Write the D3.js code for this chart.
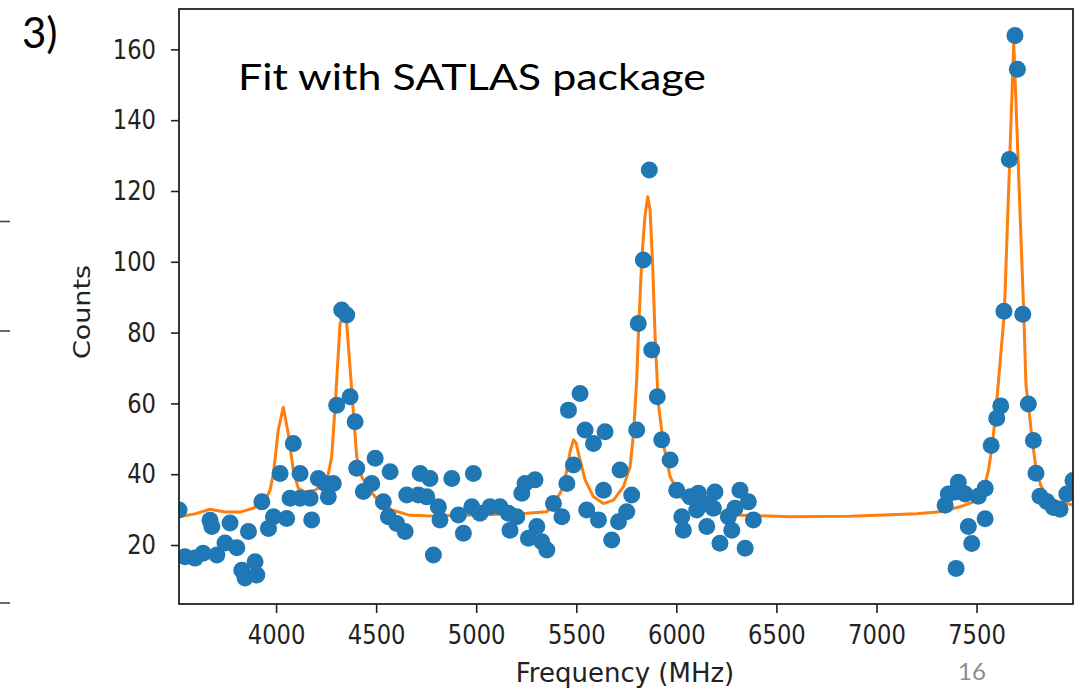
<!DOCTYPE html>
<html>
<head>
<meta charset="utf-8">
<script src="https://cdn.jsdelivr.net/npm/d3@7"></script>
<style>
  body { margin: 0; background: #fff; }
  svg { display: block; }
</style>
</head>
<body>
<svg id="chart" width="1084" height="691"></svg>
<script>
// Measured spectrum: frequency (MHz) and counts per point
const freq = [
  3515, 3545, 3595, 3635, 3670, 3679, 3704, 3745, 3770, 3804,
  3829, 3845, 3895, 3904, 3862, 3929, 3962, 3987, 4053, 4020,
  4086, 4120, 4070, 4120, 4170, 4178, 4211, 4245, 4261, 4286,
  4328, 4353, 4303, 4370, 4395, 4403, 4436, 4495, 4478, 4570,
  4536, 4561, 4603, 4645, 4653, 4720, 4769, 4711, 4753, 4811,
  4819, 4878, 4911, 4936, 4786, 4978, 4986, 5019, 5069, 5119,
  5161, 5169, 5203, 5228, 5244, 5294, 5261, 5303, 5353, 5328,
  5386, 5428, 5453, 5486, 5461, 5519, 5544, 5586, 5644, 5552,
  5611, 5636, 5677, 5711, 5719, 5752, 5777, 5802, 5865, 5835,
  5810, 5877, 5905, 5927, 5969, 6002, 6027, 6035, 6069, 6110,
  6102, 6152, 6143, 6193, 6185, 6218, 6260, 6277, 6293, 6318,
  6360, 6385, 6344, 7343, 7359, 7409, 7393, 7443, 7509, 7543,
  7543, 7459, 7476, 7398, 7573, 7601, 7621, 7637, 7664, 7692,
  7704, 7731, 7759, 7784, 7797, 7817, 7851, 7884, 7917, 7951,
  7982
];
const counts = [
  29.9, 16.7, 16.3, 17.7, 27.0, 25.2, 17.2, 20.6, 26.2, 19.2,
  12.9, 10.7, 15.3, 11.5, 23.8, 32.2, 24.7, 28.0, 27.5, 40.2,
  48.7, 40.2, 33.2, 33.2, 33.2, 27.1, 38.8, 37.4, 33.6, 37.4,
  86.4, 85.0, 59.5, 61.9, 54.8, 41.7, 35.1, 44.5, 37.4, 40.7,
  32.2, 28.0, 26.1, 23.8, 34.1, 40.2, 38.8, 34.1, 33.6, 30.8,
  27.1, 38.8, 28.5, 23.3, 17.2, 30.8, 40.2, 29.0, 30.8, 30.8,
  29.0, 24.2, 28.0, 34.6, 37.4, 38.4, 21.9, 25.2, 18.6, 20.9,
  31.7, 28.0, 37.4, 42.6, 58.1, 62.8, 52.5, 48.7, 52.0, 29.9,
  27.1, 35.5, 21.4, 26.6, 41.2, 29.4, 34.1, 52.5, 125.9, 100.5,
  82.6, 75.1, 61.9, 49.7, 44.0, 35.5, 28.0, 24.2, 33.6, 34.6,
  29.9, 25.2, 31.7, 35.0, 30.4, 20.5, 28.0, 24.2, 30.4, 35.5,
  32.2, 27.1, 19.1, 31.2, 34.4, 37.7, 35.0, 34.4, 33.8, 36.0,
  27.4, 25.2, 20.4, 13.4, 48.1, 55.8, 59.3, 86.0, 128.9, 163.9,
  154.4, 85.2, 59.8, 49.5, 40.3, 33.8, 32.3, 30.6, 30.1, 34.4,
  38.2
];

// SATLAS fit curve vertices
const fitFreq = [
  3515, 3595, 3670, 3745, 3820, 3885, 3930, 3954, 3970, 3987,
  4011, 4036, 4061, 4086, 4111, 4145, 4195, 4230, 4260, 4278,
  4295, 4320, 4336, 4353, 4378, 4403, 4428, 4460, 4495, 4578,
  4661, 4769, 5019, 5253, 5353, 5386, 5419, 5436, 5453, 5469,
  5486, 5499, 5511, 5544, 5586, 5636, 5686, 5736, 5769, 5786,
  5802, 5810, 5827, 5843, 5857, 5869, 5882, 5894, 5910, 5935,
  5969, 6019, 6119, 6285, 6568, 6868, 7201, 7318, 7418, 7485,
  7535, 7560, 7577, 7594, 7639, 7686, 7736, 7747, 7762, 7778,
  7795, 7820, 7850, 7895, 7982
];
const fitCounts = [
  28.0, 28.8, 30.1, 29.3, 29.3, 30.4, 31.9, 33.6, 35.5, 40.2,
  52.5, 58.9, 51.5, 41.2, 36.0, 35.0, 35.5, 36.9, 39.8, 44.9,
  59.1, 82.6, 84.5, 82.6, 63.8, 44.9, 39.3, 36.1, 33.6, 29.9,
  28.5, 28.2, 28.5, 29.0, 29.4, 31.9, 34.6, 36.9, 41.2, 46.3,
  49.7, 48.8, 45.9, 38.4, 33.6, 31.7, 32.7, 36.5, 42.1, 51.5,
  66.6, 78.8, 100.5, 112.7, 118.4, 114.6, 98.6, 78.8, 60.0, 48.7,
  39.3, 33.6, 29.9, 28.5, 28.0, 28.1, 28.8, 29.4, 30.8, 32.2,
  35.5, 41.2, 47.7, 56.1, 85.5, 161.8, 85.5, 65.2, 58.1, 49.7,
  42.6, 36.9, 34.1, 32.4, 31.3
];

const xTicks = [4000, 4500, 5000, 5500, 6000, 6500, 7000, 7500];
const yTicks = [20, 40, 60, 80, 100, 120, 140, 160];

const svg = d3.select("#chart");
const plot = { left: 179, top: 9, right: 1073, bottom: 604 };
const squeeze = 0.84;
const tickFont = "'DejaVu Sans', sans-serif";

const x = d3.scaleLinear().domain([3515, 7982]).range([plot.left, plot.right]);
const y = d3.scaleLinear().domain([3.34, 171.4]).range([plot.bottom, plot.top]);

svg.append("defs").append("clipPath").attr("id", "plotClip")
  .append("rect")
  .attr("x", plot.left).attr("y", plot.top)
  .attr("width", plot.right - plot.left).attr("height", plot.bottom - plot.top);

const inner = svg.append("g").attr("clip-path", "url(#plotClip)");

// fit line
const fit = fitFreq.map((f, i) => [f, fitCounts[i]]);
inner.append("path")
  .datum(fit)
  .attr("fill", "none")
  .attr("stroke", "#ff7f0e")
  .attr("stroke-width", 3)
  .attr("stroke-linejoin", "round")
  .attr("d", d3.line().x(d => x(d[0])).y(d => y(d[1])));

// data points
inner.selectAll("circle.pt")
  .data(freq.map((f, i) => [f, counts[i]]))
  .join("circle")
  .attr("class", "pt")
  .attr("cx", d => x(d[0]))
  .attr("cy", d => y(d[1]))
  .attr("r", 8.5)
  .attr("fill", "#1f77b4");

// axes
const xAxis = svg.append("g")
  .attr("transform", `translate(0,${plot.bottom})`)
  .call(d3.axisBottom(x).tickValues(xTicks).tickFormat(d3.format("d")).tickSize(9).tickPadding(12));
const yAxis = svg.append("g")
  .attr("transform", `translate(${plot.left},0)`)
  .call(d3.axisLeft(y).tickValues(yTicks).tickFormat(d3.format("d")).tickSize(8).tickPadding(14));

[xAxis, yAxis].forEach(g => {
  g.select(".domain").remove();
  g.selectAll(".tick line").attr("stroke", "#222").attr("stroke-width", 1.6);
  g.selectAll(".tick text")
    .attr("fill", "#222")
    .style("font-family", tickFont)
    .style("font-size", "27px");
});
xAxis.selectAll(".tick text")
  .attr("dy", "0.71em")
  .attr("transform", `scale(${squeeze},1)`);
yAxis.selectAll(".tick text")
  .attr("x", -23 / squeeze)
  .attr("transform", `scale(${squeeze},1)`);

// frame
svg.append("rect")
  .attr("x", plot.left).attr("y", plot.top)
  .attr("width", plot.right - plot.left).attr("height", plot.bottom - plot.top)
  .attr("fill", "none").attr("stroke", "#222").attr("stroke-width", 1.8);

// axis titles
svg.append("text")
  .attr("transform", "translate(625,682)")
  .attr("text-anchor", "middle")
  .attr("fill", "#222")
  .style("font-family", tickFont).style("font-size", "26px")
  .text("Frequency (MHz)");
svg.append("text")
  .attr("transform", `translate(90,312) scale(${squeeze},1) rotate(-90)`)
  .attr("text-anchor", "middle")
  .attr("fill", "#222")
  .style("font-family", tickFont).style("font-size", "27px")
  .text("Counts");

// slide annotations
svg.append("text")
  .attr("x", 238).attr("y", 90)
  .attr("fill", "#000")
  .style("font-family", "Lato, 'Open Sans', sans-serif").style("font-size", "37px")
  .attr("textLength", 468).attr("lengthAdjust", "spacingAndGlyphs")
  .text("Fit with SATLAS package");
svg.append("text")
  .attr("x", 22).attr("y", 48)
  .attr("fill", "#000")
  .style("font-family", "Lato, 'Open Sans', sans-serif").style("font-size", "42px")
  .text("3)");
svg.append("text")
  .attr("x", 958).attr("y", 680)
  .attr("fill", "#8c8c8c")
  .style("font-family", "Lato, 'Open Sans', sans-serif").style("font-size", "24px")
  .text("16");

// tick stubs of the neighbouring panel at the left edge
const stubY = [221.5, 331, 603];
svg.selectAll("line.stub")
  .data(stubY)
  .join("line")
  .attr("class", "stub")
  .attr("x1", 0).attr("x2", 10)
  .attr("y1", d => d).attr("y2", d => d)
  .attr("stroke", "#444").attr("stroke-width", 1.6);
</script>
</body>
</html>
